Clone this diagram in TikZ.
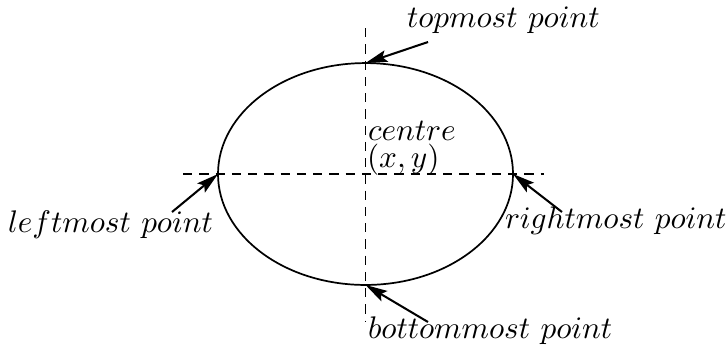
\documentclass[tikz,border=0pt]{standalone}
\usetikzlibrary{shapes.geometric,arrows.meta}
\begin{document}
\begin{tikzpicture}[x=0.32pt,y=-0.32pt,
  axis/.style={line width=0.5pt,dash pattern=on 3pt off 2.2pt},
  pointer/.style={line width=0.65pt,-{Stealth[length=7pt,width=3.8pt,inset=1.3pt]}},
  lbl/.style={anchor=base west,inner sep=0pt,outer sep=0pt,font=\fontsize{10}{12}\selectfont}]
\useasboundingbox (0,0) rectangle (728,356);
\node[ellipse,draw,line width=0.55pt,minimum width=94.4pt,minimum height=71pt,inner sep=0pt,outer sep=0pt] (e) at (365.5,174) {};
\coordinate (hl) at (183,174);
\coordinate (hr) at (544,174);
\coordinate (vt) at (365.5,28);
\coordinate (vb) at (365.5,322);
\draw[axis] (hl) -- (hr);
\draw[axis] (vt) -- (vb);
\node[lbl] (top) at (407,27) {$topmost\ point$};
\node[lbl] (left) at (8,232) {$leftmost\ point$};
\node[lbl] (right) at (505,228) {$rightmost\ point$};
\node[lbl] (bot) at (368,338) {$bottommost\ point$};
\node[lbl] (cen) at (368,140) {$centre$};
\node[lbl] (xy) at (367,167) {$(x,y)$};
\coordinate (ta) at (428,42);
\coordinate (la) at (172,212);
\coordinate (ra) at (562,212);
\coordinate (ba) at (428,322);
\draw[pointer] (ta) -- (e.north);
\draw[pointer] (la) -- (e.west);
\draw[pointer] (ra) -- (e.east);
\draw[pointer] (ba) -- (e.south);
\end{tikzpicture}
\end{document}
